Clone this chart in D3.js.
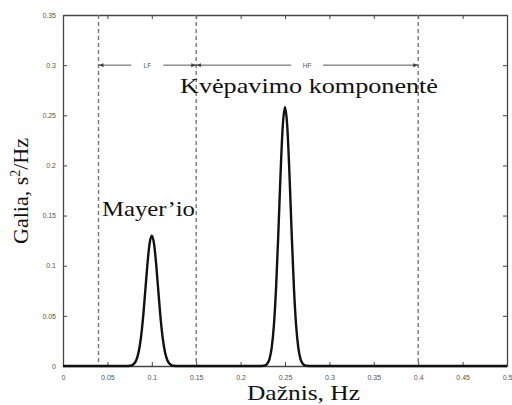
<!DOCTYPE html>
<html>
<head>
<meta charset="utf-8">
<script src="https://cdn.jsdelivr.net/npm/d3@7"></script>
<style>
  html, body { margin: 0; padding: 0; background: #fff; }
  svg { display: block; }
</style>
</head>
<body>
<svg id="chart" width="512" height="405"></svg>
<script>
// Frequency grid (Hz) and spectral power (s^2/Hz) of the HRV spectrum
const freq = [
  0, 0.0725, 0.075, 0.0775, 0.08, 0.0825, 0.085, 0.0875, 0.09, 0.0925, 0.095, 0.0975,
  0.1, 0.1025, 0.105, 0.1075, 0.11, 0.1125, 0.115, 0.1175, 0.12, 0.1225, 0.125, 0.1275,
  0.2225, 0.225, 0.2275, 0.23, 0.2325, 0.235, 0.2375, 0.24, 0.2425, 0.245, 0.2475,
  0.25, 0.2525, 0.255, 0.2575, 0.26, 0.2625, 0.265, 0.2675, 0.27, 0.2725, 0.275, 0.2775, 0.5
];
const power = [
  0, 0, 0.0002, 0.0007, 0.0022, 0.0057, 0.0131, 0.0264, 0.0468, 0.0732, 0.1007, 0.1220,
  0.13, 0.1220, 0.1007, 0.0732, 0.0468, 0.0264, 0.0131, 0.0057, 0.0022, 0.0007, 0.0002, 0,
  0, 0.0002, 0.0006, 0.0023, 0.0069, 0.0180, 0.0406, 0.0790, 0.1326, 0.1919, 0.2396,
  0.258, 0.2396, 0.1919, 0.1326, 0.0790, 0.0406, 0.0180, 0.0069, 0.0023, 0.0006, 0.0002, 0, 0
];

// Band limits (Hz) and band names
const bandEdges = [0.04, 0.15, 0.4];
const bandNames = ["LF", "HF"];

// Axis ticks
const xTicks = [0, 0.05, 0.1, 0.15, 0.2, 0.25, 0.3, 0.35, 0.4, 0.45, 0.5];
const yTicks = [0, 0.05, 0.1, 0.15, 0.2, 0.25, 0.3, 0.35];

// Texts
const xTitle = "Dažnis, Hz";
const yTitle = ["Galia, s", "2", "/Hz"];
const peakLabels = ["Mayer\u2019io", "Kvėpavimo komponentė"];
const peakLabelAnchors = [[0.1, 0.13], [0.25, 0.258]];

const svg = d3.select("#chart");
const L = 63, R = 507, T = 15, B = 366;

const x = d3.scaleLinear().domain([0, 0.5]).range([L, R]);
const y = d3.scaleLinear().domain([0, 0.35]).range([B, T]);

const axisColor = "#444";
const tickFont = "Arial, 'Liberation Sans', sans-serif";
const serif = "'Liberation Serif', 'Times New Roman', serif";

// Inward ticks on all four sides (box axes)
const gx = svg.append("g").attr("transform", `translate(0,${B})`)
  .call(d3.axisBottom(x).tickValues(xTicks).tickSizeInner(-4).tickSizeOuter(0)
    .tickPadding(9).tickFormat(d => d3.format("")(+d.toFixed(2))));
const gxt = svg.append("g").attr("transform", `translate(0,${T})`)
  .call(d3.axisTop(x).tickValues(xTicks).tickSizeInner(-4).tickSizeOuter(0).tickFormat(""));
const gy = svg.append("g").attr("transform", `translate(${L},0)`)
  .call(d3.axisLeft(y).tickValues(yTicks).tickSizeInner(-4).tickSizeOuter(0)
    .tickPadding(7).tickFormat(d => d3.format("")(+d.toFixed(2))));
const gyr = svg.append("g").attr("transform", `translate(${R},0)`)
  .call(d3.axisRight(y).tickValues(yTicks).tickSizeInner(-4).tickSizeOuter(0).tickFormat(""));

[gx, gxt, gy, gyr].forEach(g => {
  g.select(".domain").attr("stroke", axisColor).attr("stroke-width", 1.3);
  g.selectAll(".tick line").attr("stroke", axisColor).attr("stroke-width", 1);
  g.selectAll(".tick text").attr("fill", "#555").attr("font-size", 7)
    .attr("font-family", tickFont);
});

// Dashed band limits
svg.append("g").selectAll("line").data(bandEdges).join("line")
  .attr("x1", d => x(d)).attr("x2", d => x(d))
  .attr("y1", y(0.35)).attr("y2", y(0))
  .attr("stroke", "#777").attr("stroke-width", 1.4)
  .attr("stroke-dasharray", "4,3");

// Band arrows with labels at 0.3
const defs = svg.append("defs");
defs.append("marker").attr("id", "ah").attr("viewBox", "0 0 10 10")
  .attr("refX", 10).attr("refY", 5).attr("markerWidth", 5).attr("markerHeight", 5)
  .attr("orient", "auto-start-reverse")
  .append("path").attr("d", "M0,1L10,5L0,9Z").attr("fill", "#444");

const bands = bandNames.map((name, i) => ({ name, a: bandEdges[i], b: bandEdges[i + 1] }));
const bandG = svg.append("g").selectAll("g").data(bands).join("g");
const gap = 0.018;
bandG.append("line")
  .attr("x1", d => x(d.a)).attr("x2", d => x((d.a + d.b) / 2 - gap))
  .attr("y1", y(0.3)).attr("y2", y(0.3))
  .attr("stroke", "#555").attr("stroke-width", 1)
  .attr("marker-start", "url(#ah)");
bandG.append("line")
  .attr("x1", d => x((d.a + d.b) / 2 + gap)).attr("x2", d => x(d.b))
  .attr("y1", y(0.3)).attr("y2", y(0.3))
  .attr("stroke", "#555").attr("stroke-width", 1)
  .attr("marker-end", "url(#ah)");
bandG.append("text")
  .attr("x", d => x((d.a + d.b) / 2)).attr("y", y(0.3) + 2.5)
  .attr("text-anchor", "middle").attr("font-size", 6.5)
  .attr("font-family", tickFont).attr("fill", "#555")
  .text(d => d.name);

// Spectrum curve
const line = d3.line().x((d, i) => x(freq[i])).y(d => y(d)).curve(d3.curveMonotoneX);
svg.append("path").datum(power)
  .attr("d", line)
  .attr("fill", "none").attr("stroke", "#111").attr("stroke-width", 2.4)
  .attr("stroke-linejoin", "round");

// Peak annotations
svg.append("text")
  .attr("x", 102).attr("y", y(peakLabelAnchors[0][1]) - 20)
  .attr("font-family", serif).attr("font-size", 21)
  .attr("textLength", 93).attr("lengthAdjust", "spacingAndGlyphs")
  .attr("fill", "#111").text(peakLabels[0]);
svg.append("text")
  .attr("x", 180).attr("y", y(peakLabelAnchors[1][1]) - 14)
  .attr("font-family", serif).attr("font-size", 21)
  .attr("textLength", 258).attr("lengthAdjust", "spacingAndGlyphs")
  .attr("fill", "#111").text(peakLabels[1]);

// Axis titles
svg.append("text")
  .attr("x", 247).attr("y", 400)
  .attr("font-family", serif).attr("font-size", 22)
  .attr("textLength", 113).attr("lengthAdjust", "spacingAndGlyphs")
  .attr("fill", "#111").text(xTitle);

const yt = svg.append("text")
  .attr("transform", "translate(28,191) rotate(-90)")
  .attr("text-anchor", "middle").attr("font-family", serif).attr("font-size", 22)
  .attr("fill", "#111");
yt.append("tspan").text(yTitle[0]);
yt.append("tspan").attr("dy", -8).attr("font-size", 14).text(yTitle[1]);
yt.append("tspan").attr("dy", 8).text(yTitle[2]);
</script>
</body>
</html>
